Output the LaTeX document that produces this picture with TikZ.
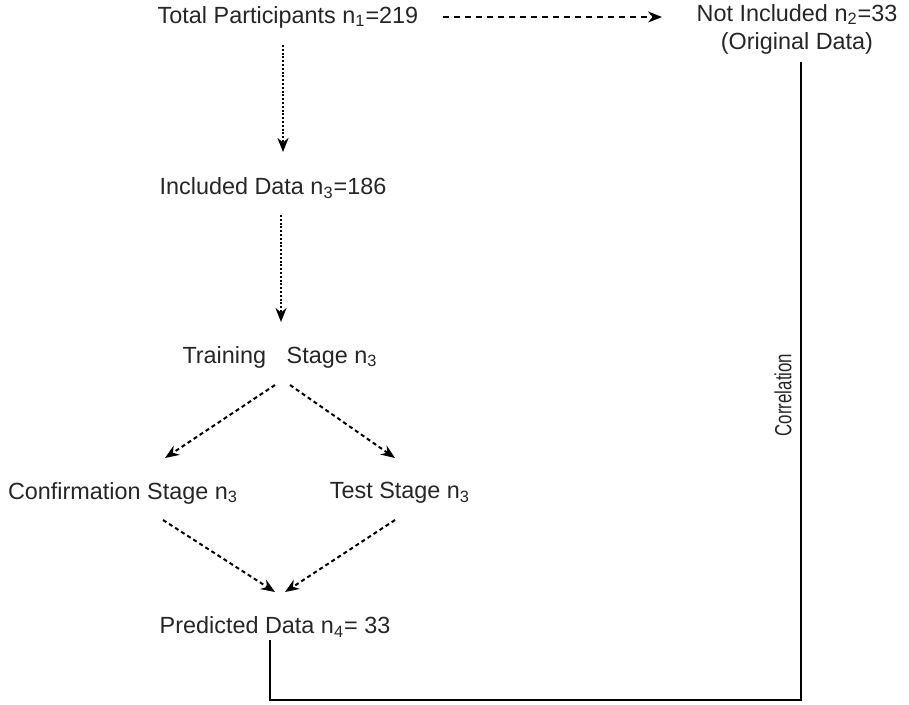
\documentclass[tikz,border=0pt]{standalone}
\usepackage{fontspec}
\setmainfont{Liberation Sans}
\usetikzlibrary{arrows.meta, calc}
\tikzset{
    >={Stealth[length=7pt,width=5.5pt]}, % filled arrow heads
    lbl/.style={inner sep=0pt, text=black!85, font=\fontsize{11.7}{14}\selectfont}, % every text node
    dotarr/.style={->, line width=1.4pt, dash pattern=on 1pt off 0.9pt},
    dasharr/.style={->, line width=1pt, dash pattern=on 2pt off 1.6pt},
    longdash/.style={->, line width=1pt, dash pattern=on 3pt off 2.5pt},
    link/.style={line width=1.1pt},
}

\begin{document}
\begin{tikzpicture}[x=0.5pt, y=-0.5pt]
    \useasboundingbox (0,0) rectangle (909,705);

    \node[lbl](tot) at (288,17) {Total Participants n\textsubscript{1}=219};
    \node[lbl, align=center](notinc) at (797,29) {Not Included n\textsubscript{2}=33\\(Original Data)};
    \node[lbl](inc) at (273,188) {Included Data n\textsubscript{3}=186};
    \node[lbl](train) at (280,357) {Training\hspace{0.6em} Stage n\textsubscript{3}};
    \node[lbl](conf) at (123,493) {Confirmation Stage n\textsubscript{3}};
    \node[lbl](test) at (400,493) {Test Stage n\textsubscript{3}};
    \node[lbl](pred) at (275,627) {Predicted Data n\textsubscript{4}= 33};
    \node[lbl, rotate=90](corr) at (783,395) {\scalebox{0.72}[1]{Correlation}};

    \draw[longdash] ($(tot)+(155,0)$) -- ($(notinc)+(-135,-12)$);
    \draw[dotarr] ($(tot)+(-5,28)$) -- ($(inc)+(10,-36)$);
    \draw[dotarr] ($(inc)+(8,27)$) -- ($(train)+(1,-35)$);
    \draw[dasharr] ($(train)+(-5,28)$) -- ($(conf)+(42,-35)$);
    \draw[dasharr] ($(train)+(10,28)$) -- ($(test)+(-5,-35)$);
    \draw[dasharr] ($(conf)+(40,27)$) -- ($(pred)+(0,-35)$);
    \draw[dasharr] ($(test)+(-5,27)$) -- ($(pred)+(10,-35)$);
    \draw[link] ($(notinc)+(4,33)$) |- ($(pred)+(-5,73)$) -- ($(pred)+(-5,13)$);
\end{tikzpicture}
\end{document}
